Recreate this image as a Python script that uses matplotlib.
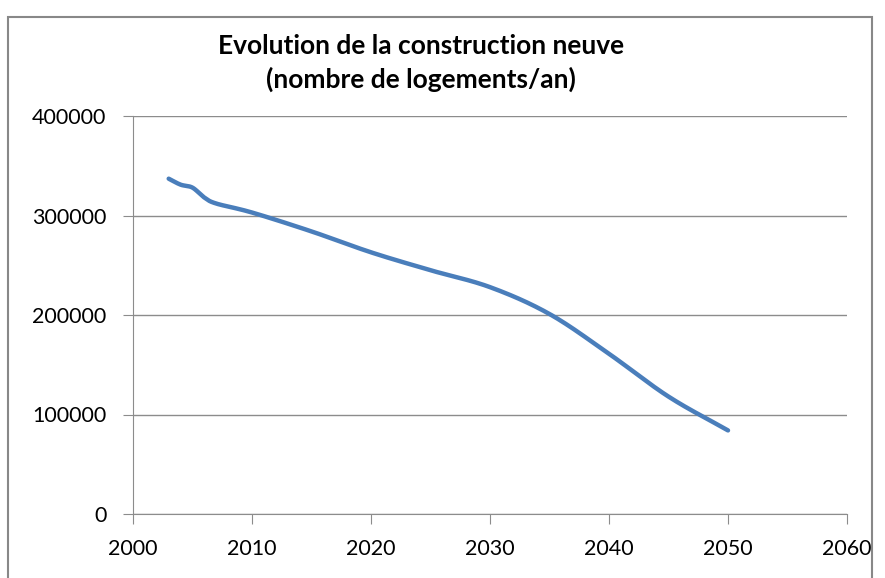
import numpy as np
import matplotlib.pyplot as plt
from matplotlib.patches import Rectangle

annees = [2003, 2004, 2005, 2006, 2007, 2010, 2015, 2020, 2025, 2030, 2035, 2040, 2045, 2050]
logements = [337000, 331000, 328000, 318000, 312000, 303000, 284000, 263000,
             245000, 228000, 201000, 161000, 118000, 84000]
x_ticks = [2000, 2010, 2020, 2030, 2040, 2050, 2060]
y_ticks = [0, 100000, 200000, 300000, 400000]


def lisser(x, y, n=30):
    # courbe lissee facon Excel (Catmull-Rom)
    x = np.asarray(x, float)
    y = np.asarray(y, float)
    px = np.concatenate([[2 * x[0] - x[1]], x, [2 * x[-1] - x[-2]]])
    py = np.concatenate([[2 * y[0] - y[1]], y, [2 * y[-1] - y[-2]]])
    xs, ys = [], []
    t = np.linspace(0, 1, n)
    for i in range(1, len(px) - 2):
        for p, out in ((px, xs), (py, ys)):
            p0, p1, p2, p3 = p[i - 1], p[i], p[i + 1], p[i + 2]
            out.extend(0.5 * (2 * p1 + (-p0 + p2) * t
                              + (2 * p0 - 5 * p1 + 4 * p2 - p3) * t ** 2
                              + (-p0 + 3 * p1 - 3 * p2 + p3) * t ** 3))
    return np.array(xs), np.array(ys)


plt.rcParams['font.family'] = ['Lato', 'DejaVu Sans']
fig = plt.figure(figsize=(8.85, 5.78), dpi=100)
fig.patches.append(Rectangle((8 / 885, -0.05), 864 / 885, 1.05 - 17 / 578,
                             transform=fig.transFigure, fill=False,
                             edgecolor='#888888', linewidth=1.5))
ax = fig.add_axes([133 / 885, 1 - 514 / 578, 714 / 885, 398 / 578])

xs, ys = lisser(annees, logements)
ax.plot(xs, ys, color='#4A7EBB', linewidth=3.2, solid_capstyle='round')

ax.set_xlim(2000, 2060)
ax.set_ylim(0, 400000)
ax.set_xticks(x_ticks)
ax.set_yticks(y_ticks)
ax.set_xticklabels([str(v) for v in x_ticks])
ax.set_yticklabels([str(v) for v in y_ticks])
ax.grid(axis='y', color='#8C8C8C', linewidth=1)
ax.set_axisbelow(True)
for s in ['top', 'right']:
    ax.spines[s].set_visible(False)
for s in ['left', 'bottom']:
    ax.spines[s].set_color('#8C8C8C')
ax.tick_params(axis='both', colors='#8C8C8C', labelcolor='black', labelsize=15.5,
               length=7, direction='out')
ax.tick_params(axis='x', pad=11)
ax.tick_params(axis='y', pad=12)

fig.text(421 / 885, 1 - 63 / 578,
         'Evolution de la construction neuve\n(nombre de logements/an)',
         ha='center', va='center', fontsize=19, fontweight='bold', linespacing=1.45)

fig.savefig('out.png', dpi=100)
